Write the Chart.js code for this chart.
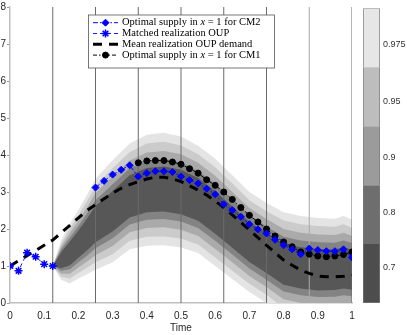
<!DOCTYPE html>
<html>
<head>
<meta charset="utf-8">
<script src="https://cdn.jsdelivr.net/npm/chart.js@4.4.1/dist/chart.umd.min.js"></script>
<style>
  body { margin: 0; background: #fff; }
  #wrap { position: relative; width: 407px; height: 335px; }
  #main { position: absolute; left: 0; top: 0; }
  #cbar { position: absolute; left: 355px; top: 0; }
</style>
</head>
<body>
<div id="wrap">
  <canvas id="main" width="407" height="335"></canvas>
  <canvas id="cbar" width="52" height="335"></canvas>
</div>
<script>
// time grid of the supply / demand series
const times = [0, 0.025, 0.05, 0.075, 0.1, 0.125, 0.15, 0.175, 0.2, 0.225,
  0.25, 0.275, 0.3, 0.325, 0.35, 0.375, 0.4, 0.425, 0.45, 0.475,
  0.5, 0.525, 0.55, 0.575, 0.6, 0.625, 0.65, 0.675, 0.7, 0.725,
  0.75, 0.775, 0.8, 0.825, 0.85, 0.875, 0.9, 0.925, 0.95, 0.975, 1];

const cm2Supply = [null, null, null, null, null, null, null, null, null, null,
  3.12, 3.30, 3.47, 3.60, 3.72, 3.42, 3.51, 3.56, 3.56, 3.54,
  3.42, 3.32, 3.23, 3.09, 2.94, 2.67, 2.51, 2.33, 2.13, 1.99,
  1.88, 1.71, 1.56, 1.45, 1.32, 1.47, 1.43, 1.40, 1.40, 1.45, 1.23];

const matchedOup = [1.0, 0.87, 1.36, 1.25, 1.05, 1.0, null, null, null, null,
  null, null, null, null, null, null, null, null, null, null,
  null, null, null, null, null, null, null, null, null, null,
  null, null, null, null, null, null, null, null, null, null, null];

const meanOup = [1.0, 1.14, 1.28, 1.42, 1.56, 1.70, 1.90, 2.10, 2.30, 2.50,
  2.66, 2.82, 2.97, 3.10, 3.20, 3.28, 3.35, 3.40, 3.40, 3.36,
  3.28, 3.17, 3.05, 2.92, 2.76, 2.58, 2.38, 2.18, 1.97, 1.77,
  1.56, 1.36, 1.16, 1.02, 0.89, 0.80, 0.73, 0.71, 0.71, 0.72, 0.75];

const cm1Supply = [null, null, null, null, null, null, null, null, null, null,
  null, null, null, null, null, 3.79, 3.84, 3.85, 3.85, 3.81,
  3.75, 3.63, 3.51, 3.33, 3.18, 3.00, 2.80, 2.58, 2.37, 2.19,
  2.00, 1.81, 1.65, 1.52, 1.38, 1.32, 1.27, 1.25, 1.27, 1.31, 1.38];

// quantile fan of the OUP demand
const bandTimes = [0.125, 0.15, 0.175, 0.2, 0.225, 0.25, 0.3, 0.35, 0.4, 0.45, 0.5,
  0.55, 0.6, 0.65, 0.7, 0.75, 0.8, 0.85, 0.9, 0.95, 0.975, 1];
const upper975 = [1.0, 1.70, 2.15, 2.52, 2.92, 3.36, 3.86, 4.31, 4.55, 4.60, 4.50,
  4.25, 3.90, 3.45, 3.00, 2.70, 2.45, 2.35, 2.30, 2.28, 2.35, 2.25];
const lower975 = [1.0, 0.62, 0.53, 0.66, 0.78, 0.90, 1.10, 1.45, 1.55, 1.56, 1.50,
  1.35, 1.00, 0.65, 0.30, 0.00, -0.35, -0.45, -0.50, -0.48, -0.45, -0.45];
const upper95 = [1.0, 1.61, 2.02, 2.37, 2.75, 3.16, 3.64, 4.08, 4.31, 4.36, 4.26,
  4.02, 3.67, 3.23, 2.78, 2.48, 2.23, 2.13, 2.08, 2.06, 2.13, 2.03];
const lower95 = [1.0, 0.71, 0.66, 0.81, 0.95, 1.10, 1.32, 1.68, 1.79, 1.80, 1.74,
  1.58, 1.23, 0.87, 0.52, 0.22, -0.13, -0.23, -0.28, -0.26, -0.23, -0.23];
const upper90 = [1.0, 1.53, 1.89, 2.22, 2.58, 2.97, 3.42, 3.85, 4.07, 4.11, 4.02,
  3.79, 3.44, 3.00, 2.57, 2.27, 2.00, 1.90, 1.85, 1.84, 1.90, 1.82];
const lower90 = [1.0, 0.79, 0.79, 0.96, 1.12, 1.29, 1.54, 1.91, 2.03, 2.05, 1.98,
  1.81, 1.46, 1.10, 0.73, 0.43, 0.10, 0.00, -0.05, -0.04, 0.00, -0.02];
const upper80 = [1.0, 1.45, 1.77, 2.08, 2.42, 2.78, 3.21, 3.64, 3.85, 3.89, 3.80,
  3.57, 3.22, 2.79, 2.37, 2.07, 1.79, 1.69, 1.64, 1.63, 1.69, 1.62];
const lower80 = [1.0, 0.87, 0.91, 1.10, 1.28, 1.48, 1.75, 2.12, 2.25, 2.27, 2.20,
  2.03, 1.68, 1.31, 0.93, 0.63, 0.31, 0.21, 0.16, 0.17, 0.21, 0.18];
const upper70 = [1.0, 1.38, 1.66, 1.96, 2.28, 2.62, 3.03, 3.45, 3.65, 3.69, 3.60,
  3.38, 3.03, 2.61, 2.19, 1.89, 1.61, 1.51, 1.46, 1.45, 1.51, 1.44];
const lower70 = [1.0, 0.94, 1.02, 1.22, 1.42, 1.64, 1.93, 2.31, 2.45, 2.47, 2.40,
  2.22, 1.87, 1.49, 1.11, 0.81, 0.49, 0.39, 0.34, 0.35, 0.39, 0.36];

// stage boundaries (vertical lines)
const stageTimes = [0.125, 0.25, 0.375, 0.5, 0.625, 0.75, 0.875, 1];
const yRange = [0, 8];

const legendLabels = ['Optimal supply in x = 1 for CM2', 'Matched realization OUP',
  'Mean realization OUP demand', 'Optimal supply in x = 1 for CM1'];

// colorbar
const cbarLabels = ['0.7', '0.8', '0.9', '0.95', '0.975'];
const cbarTickPos = [0.61, 1.53, 2.47, 3.42, 4.38];
const cbarColors = ['#4d4d4d', '#6e6e6e', '#9b9b9b', '#bdbdbd', '#e6e6e6'];

function pts(xs, ys) {
    return xs.map((x, i) => ({ x: x, y: ys[i] })).filter(p => p.y !== null);
}

Chart.defaults.font.family = '"Liberation Sans", Arial, sans-serif';
Chart.defaults.font.size = 10;
Chart.defaults.color = '#262626';

const cm2Ds = {
    label: legendLabels[0], data: pts(times, cm2Supply), order: 0,
    borderColor: '#0000ff', borderWidth: 1, borderDash: [5, 2, 1.5, 2],
    pointStyle: 'rectRot', pointRadius: 3.5, pointBorderWidth: 1,
    pointBackgroundColor: '#0000ff', pointBorderColor: '#0000ff', fill: false
};
const matchedDs = {
    label: legendLabels[1], data: pts(times, matchedOup), order: 1,
    borderColor: '#1a1aff', borderWidth: 1, borderDash: [4, 3],
    pointStyle: 'star', pointRadius: 4, pointBorderWidth: 1.5,
    pointBackgroundColor: '#0000ff', pointBorderColor: '#0000ff', fill: false
};
const meanDs = {
    label: legendLabels[2], data: pts(times, meanOup), order: 2,
    borderColor: '#000', borderWidth: 3, borderDash: [9, 7],
    pointRadius: 0, fill: false
};
const cm1Ds = {
    label: legendLabels[3], data: pts(times, cm1Supply), order: 1,
    borderColor: '#000', borderWidth: 1, borderDash: [4, 2, 1.5, 2],
    pointStyle: 'circle', pointRadius: 3, pointBorderWidth: 1,
    pointBackgroundColor: '#000', pointBorderColor: '#000', fill: false
};

const bands = [
    { up: upper975, lo: lower975, color: '#e4e4e4', order: 9 },
    { up: upper95, lo: lower95, color: '#cbcbcb', order: 8 },
    { up: upper90, lo: lower90, color: '#aaaaaa', order: 7 },
    { up: upper80, lo: lower80, color: '#838383', order: 6 },
    { up: upper70, lo: lower70, color: '#575757', order: 5 }
];

const datasets = [cm2Ds, matchedDs, meanDs, cm1Ds];

stageTimes.forEach(t => {
    datasets.push({
        data: [{ x: t, y: yRange[0] }, { x: t, y: yRange[1] }],
        borderColor: t === 0.875 ? '#ababab' : '#6a6a6a',
        borderWidth: 1, pointRadius: 0, fill: false, order: 4
    });
});

bands.forEach(b => {
    datasets.push({
        data: pts(bandTimes, b.up), fill: '+1', backgroundColor: b.color,
        borderColor: 'transparent', borderWidth: 0, pointRadius: 0, order: b.order
    });
    datasets.push({
        data: pts(bandTimes, b.lo), fill: false,
        borderColor: 'transparent', borderWidth: 0, pointRadius: 0, order: b.order
    });
});

// legend box drawn inside the plot area
const legendPlugin = {
    id: 'boxLegend',
    afterDraw(chart) {
        const ctx = chart.ctx;
        const rows = [cm2Ds, matchedDs, meanDs, cm1Ds];
        const rowY = [22.7, 33.5, 44.3, 55.1];
        ctx.save();
        ctx.fillStyle = '#fff';
        ctx.fillRect(88.5, 15, 186, 53);
        ctx.strokeStyle = '#555';
        ctx.lineWidth = 0.8;
        ctx.strokeRect(88.5, 15, 186, 53);
        rows.forEach((ds, i) => {
            const y = rowY[i];
            ctx.setLineDash(ds.borderDash);
            ctx.strokeStyle = ds.borderColor;
            ctx.lineWidth = ds.borderWidth;
            ctx.beginPath();
            ctx.moveTo(93, y);
            ctx.lineTo(118, y);
            ctx.stroke();
            ctx.setLineDash([]);
            if (ds.pointRadius) {
                ctx.fillStyle = ds.pointBackgroundColor;
                ctx.strokeStyle = ds.pointBorderColor;
                ctx.lineWidth = ds.pointBorderWidth;
                Chart.helpers.drawPoint(ctx, {
                    pointStyle: ds.pointStyle, radius: ds.pointRadius,
                    borderWidth: ds.pointBorderWidth, rotation: 0
                }, 105.5, y);
            }
            ctx.fillStyle = '#000';
            ctx.textBaseline = 'middle';
            ctx.textAlign = 'left';
            const txt = ds.label;
            const k = txt.indexOf(' x ');
            const up = '10.5px "Liberation Serif", serif';
            let x = 122;
            if (k < 0) {
                ctx.font = up;
                ctx.fillText(txt, x, y);
            } else {
                const a = txt.slice(0, k + 1), b = txt.slice(k + 2);
                ctx.font = up;
                ctx.fillText(a, x, y);
                x += ctx.measureText(a).width;
                ctx.font = 'italic ' + up;
                ctx.fillText('x', x, y);
                x += ctx.measureText('x').width;
                ctx.font = up;
                ctx.fillText(b, x, y);
            }
        });
        ctx.restore();
    }
};

new Chart(document.getElementById('main'), {
    type: 'line',
    data: { datasets: datasets },
    plugins: [legendPlugin],
    options: {
        responsive: false,
        animation: false,
        devicePixelRatio: 1,
        layout: { padding: { left: 0, right: 55, top: 6, bottom: 0 } },
        plugins: { legend: { display: false }, tooltip: { enabled: false } },
        scales: {
            x: {
                type: 'linear', min: 0, max: 1,
                grid: { drawOnChartArea: false, drawTicks: false },
                border: { color: '#bfbfbf', width: 1.5 },
                ticks: {
                    stepSize: 0.1, padding: 7,
                    callback: v => String(Number(v.toFixed(1)))
                },
                title: { display: true, text: 'Time', padding: { top: 0, bottom: 1 } },
                afterFit: s => { s.height = 32; }
            },
            y: {
                min: yRange[0], max: yRange[1],
                grid: { drawOnChartArea: false, drawTicks: true, tickLength: 3, tickColor: '#999' },
                border: { color: '#bfbfbf', width: 1.5 },
                ticks: { stepSize: 1, padding: 1 },
                afterFit: s => { s.width = 10; }
            }
        }
    }
});

// colorbar as a stacked bar
new Chart(document.getElementById('cbar'), {
    type: 'bar',
    data: {
        labels: [''],
        datasets: cbarColors.map((c, i) => ({
            data: [1], backgroundColor: c, borderColor: '#7a7a7a',
            borderWidth: { left: 1, right: 1, top: i === cbarColors.length - 1 ? 1 : 0, bottom: i === 0 ? 1 : 0 },
            borderSkipped: false, barPercentage: 1, categoryPercentage: 1
        }))
    },
    options: {
        responsive: false,
        animation: false,
        devicePixelRatio: 1,
        layout: { padding: { left: 8, top: 6, bottom: 32, right: 0 } },
        plugins: { legend: { display: false }, tooltip: { enabled: false } },
        scales: {
            x: { stacked: true, display: false },
            y: {
                stacked: true, min: 0, max: 5, position: 'right',
                grid: { display: false, drawTicks: false },
                border: { display: false },
                ticks: {
                    padding: 3, autoSkip: false, color: '#333', font: { size: 9 },
                    callback: (v, i) => cbarLabels[i]
                },
                afterBuildTicks: s => { s.ticks = cbarTickPos.map(v => ({ value: v })); },
                afterFit: s => { s.width = 27; }
            }
        }
    }
});
</script>
</body>
</html>
